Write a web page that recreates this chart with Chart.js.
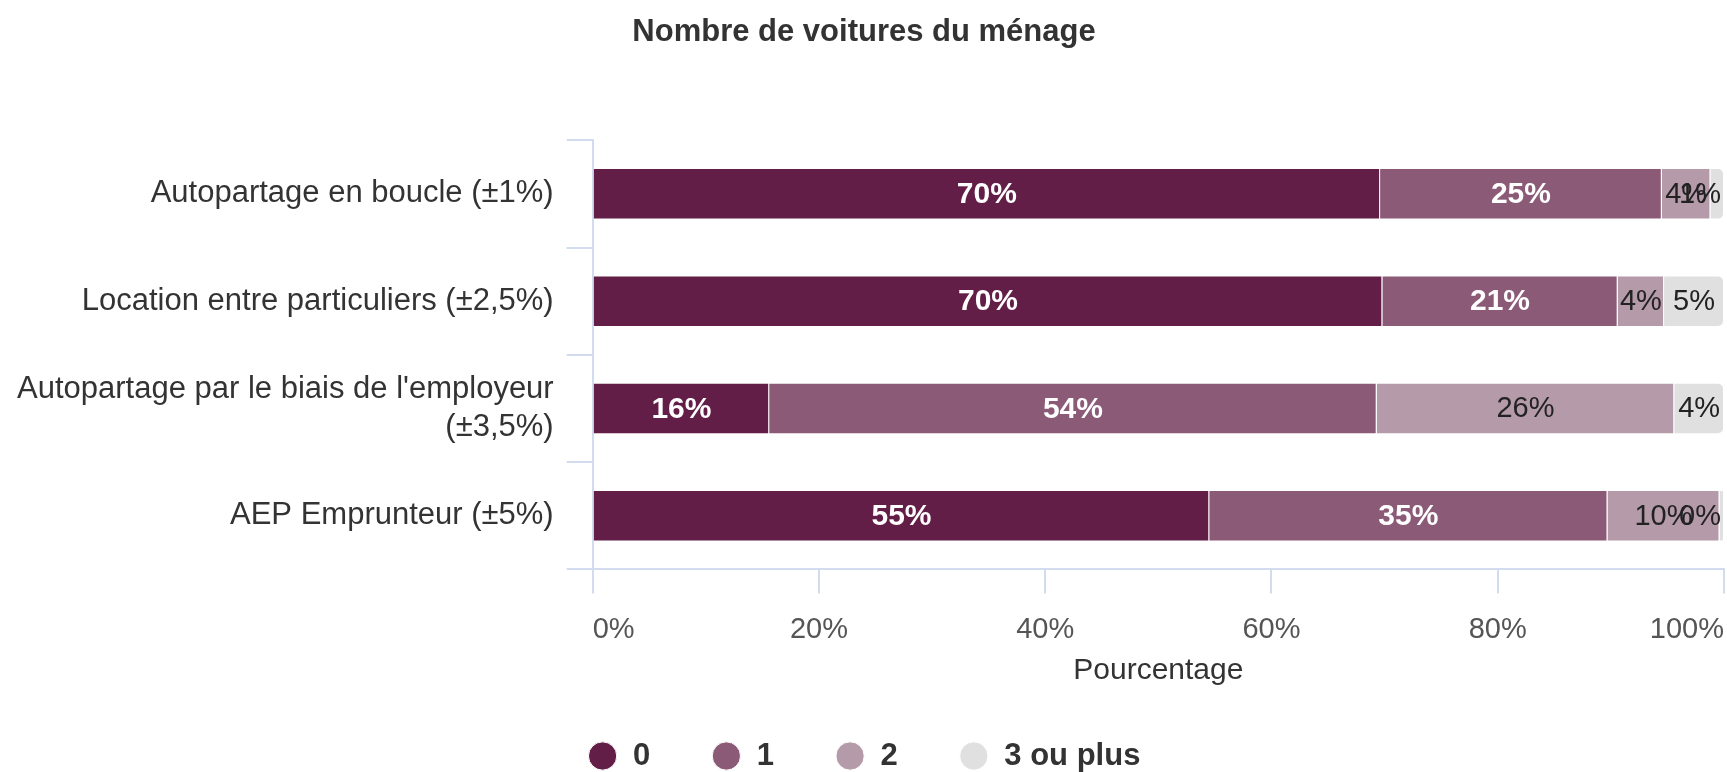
<!DOCTYPE html>
<html>
<head>
<meta charset="utf-8">
<script src="https://cdn.jsdelivr.net/npm/chart.js"></script>
<style>
  html, body { margin: 0; padding: 0; background: #fff; }
  #wrap { width: 1727px; height: 772px; }
</style>
</head>
<body>
<div id="wrap"><canvas id="chart"></canvas></div>
<script>
// categories (y axis)
const categories = [
  'Autopartage en boucle (±1%)',
  'Location entre particuliers (±2,5%)',
  ["Autopartage par le biais de l'employeur", '(±3,5%)'],
  'AEP Emprunteur (±5%)'
];
const seriesNames = ['0', '1', '2', '3 ou plus'];
// percentages per series, one value per category
const zeroCar = [69.6, 69.8, 15.6, 54.5];
const oneCar = [24.9, 20.8, 53.7, 35.2];
const twoCar = [4.3, 4.1, 26.3, 9.9];
const threePlus = [1.2, 5.3, 4.4, 0.4];
const xTicks = [0, 20, 40, 60, 80, 100];

const colors = ['#621e46', '#8b5a77', '#b59aa9', '#e0e0e0'];
const labelColors = ['#ffffff', '#ffffff', '#222222', '#222222'];
const labelWeights = ['bold', 'bold', 'normal', 'normal'];
const gridColor = '#d3dcef';
const fontFamily = '"Liberation Sans", Arial, sans-serif';

Chart.defaults.font.family = fontFamily;

// value labels in the middle of each segment, kept inside the plot on the right
const barLabels = {
  id: 'barLabels',
  afterDatasetsDraw(chart) {
    const ctx = chart.ctx;
    const area = chart.chartArea;
    ctx.save();
    ctx.textAlign = 'center';
    ctx.textBaseline = 'middle';
    chart.data.datasets.forEach((ds, di) => {
      ctx.font = labelWeights[di] + (di < 2 ? ' 30px ' : ' 29px ') + fontFamily;
      chart.getDatasetMeta(di).data.forEach((bar, i) => {
        const p = bar.getProps(['x', 'y', 'base'], true);
        const text = Math.round(ds.data[i]) + '%';
        const w = ctx.measureText(text).width;
        let cx = (p.x + p.base) / 2;
        cx = Math.min(cx, area.right - w / 2 - 3);
        ctx.fillStyle = labelColors[di];
        ctx.fillText(text, cx, p.y + 1);
      });
    });
    ctx.restore();
  }
};

const seriesData = [zeroCar, oneCar, twoCar, threePlus];

new Chart(document.getElementById('chart'), {
  type: 'bar',
  data: {
    labels: categories,
    datasets: seriesData.map((d, i) => ({
      label: seriesNames[i],
      data: d,
      backgroundColor: colors[i],
      borderColor: '#ffffff',
      borderWidth: 1,
      borderRadius: i === 3 ? 6 : 0,
      barPercentage: 0.48,
      categoryPercentage: 1
    }))
  },
  options: {
    indexAxis: 'y',
    responsive: true,
    maintainAspectRatio: false,
    animation: false,
    layout: { padding: { left: 4, right: 3, top: 0, bottom: 0 } },
    plugins: {
      title: {
        display: true,
        text: 'Nombre de voitures du ménage',
        color: '#333333',
        font: { size: 31, weight: 'bold' },
        padding: { top: 14.3, bottom: 88.7 }
      },
      legend: {
        position: 'bottom',
        maxHeight: 92.5,
        labels: {
          usePointStyle: true,
          pointStyle: 'circle',
          boxWidth: 30,
          boxHeight: 20,
          padding: 61,
          color: '#333333',
          font: { size: 31, weight: 'bold' }
        }
      },
      tooltip: { enabled: false }
    },
    scales: {
      x: {
        stacked: true,
        min: 0,
        max: 100,
        afterBuildTicks: (s) => { s.ticks = xTicks.map(v => ({ value: v })); },
        afterFit: (s) => { s.paddingRight = 0; s.paddingLeft = 0; },
        grid: { drawOnChartArea: false, drawTicks: true, tickLength: 24, color: gridColor, lineWidth: 2 },
        border: { color: gridColor, width: 2 },
        ticks: {
          align: 'inner',
          padding: 19,
          color: '#555555',
          font: { size: 29 },
          callback: (v) => v + '%'
        },
        title: {
          display: true,
          text: 'Pourcentage',
          color: '#333333',
          font: { size: 30 },
          padding: { top: -13.7, bottom: -9 }
        }
      },
      y: {
        stacked: true,
        grid: { drawOnChartArea: false, drawTicks: true, tickLength: 26, color: gridColor, lineWidth: 2, offset: true },
        border: { color: gridColor, width: 2 },
        ticks: { padding: 13, color: '#333333', font: { size: 31 } }
      }
    }
  },
  plugins: [barLabels]
});
</script>
</body>
</html>
